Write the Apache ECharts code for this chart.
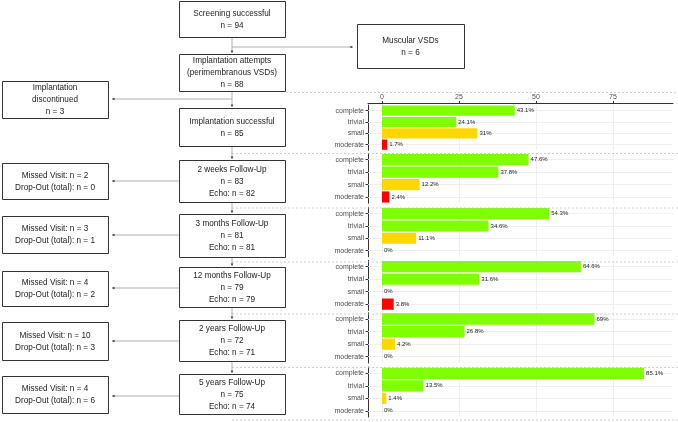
<!DOCTYPE html>
<html>
<head>
<meta charset="utf-8">
<script src="https://cdn.jsdelivr.net/npm/echarts@6/dist/echarts.min.js"></script>
<style>
html, body { margin: 0; padding: 0; background: #fff; }
#main { width: 678px; height: 422px; }
</style>
</head>
<body>
<div id="main"></div>
<script>
// residual shunt grade per visit, % of echos
var grades = ['complete', 'trivial', 'small', 'moderate'];
var visits = ['Implantation', '2 weeks', '3 months', '12 months', '2 years', '5 years'];
var complete = [43.1, 47.6, 54.3, 64.6, 69, 85.1];
var trivial  = [24.1, 37.8, 34.6, 31.6, 26.8, 13.5];
var small    = [31, 12.2, 11.1, 0, 4.2, 1.4];
var moderate = [1.7, 2.4, 0, 3.8, 0, 0];
var xTicks = [0, 25, 50, 75];

// flow chart texts
var mainTexts = [
	['Screening successful', 'n = 94'],
	['Implantation attempts', '(perimembranous VSDs)', 'n = 88'],
	['Implantation successful', 'n = 85'],
	['2 weeks Follow-Up', 'n = 83', 'Echo: n = 82'],
	['3 months Follow-Up', 'n = 81', 'Echo: n = 81'],
	['12 months Follow-Up', 'n = 79', 'Echo: n = 79'],
	['2 years Follow-Up', 'n = 72', 'Echo: n = 71'],
	['5 years Follow-Up', 'n = 75', 'Echo: n = 74']
];
var sideTexts = [
	['Implantation', 'discontinued', 'n = 3'],
	['Missed Visit: n = 2', 'Drop-Out (total): n = 0'],
	['Missed Visit: n = 3', 'Drop-Out (total): n = 1'],
	['Missed Visit: n = 4', 'Drop-Out (total): n = 2'],
	['Missed Visit: n = 10', 'Drop-Out (total): n = 3'],
	['Missed Visit: n = 4', 'Drop-Out (total): n = 6']
];
var muscularText = ['Muscular VSDs', 'n = 6'];

// layout
var FONT = "'Liberation Sans', Arial, sans-serif";
var gradeColors = {complete: '#7FFF00', trivial: '#7FFF00', small: '#FFD700', moderate: '#FF0000'};
var mainY = [[1, 37], [54, 91], [108, 146], [160, 202], [214, 257], [267, 307], [320, 361], [374, 414]];
var sideY = [[81, 118], [163, 199], [216, 253], [271, 306], [322, 360], [376, 413]];
var sideArrowY = [99, 181, 235, 288, 341, 396];
var panelTop = [105, 153.5, 207.5, 260.4, 312.7, 367];
var panelHeight = [45.3, 49.7, 49.3, 50, 50.3, 50];
var dashY = [92, 153, 207.5, 261.5, 313.5, 367, 419.5];
var CX = 232;

var g = [];
function box(x1, y1, x2, y2, lines) {
	g.push({type: 'rect', z: 10, shape: {x: x1 + 0.5, y: y1 + 0.5, width: x2 - x1, height: y2 - y1},
		style: {fill: '#fff', stroke: '#333', lineWidth: 1}});
	var lh = 12;
	var start = (y1 + y2) / 2 + 0.5 - (lines.length - 1) * lh / 2;
	lines.forEach(function(t, k) {
		g.push({type: 'text', z: 11, style: {text: t, x: (x1 + x2) / 2, y: start + k * lh,
			textAlign: 'center', textVerticalAlign: 'middle', fontSize: 8.2, fontFamily: FONT, fill: '#222'}});
	});
}
function line(x1, y1, x2, y2) {
	g.push({type: 'line', z: 5, shape: {x1: x1, y1: y1, x2: x2, y2: y2}, style: {stroke: '#999', lineWidth: 0.8}});
}
function dash(x1, y) {
	g.push({type: 'line', z: 5, shape: {x1: x1, y1: y + 0.5, x2: 678, y2: y + 0.5},
		style: {stroke: '#bbb', lineWidth: 0.7, lineDash: [2, 2]}});
}
function head(pts) {
	g.push({type: 'polygon', z: 6, shape: {points: pts}, style: {fill: '#333'}});
}

// main column
mainTexts.forEach(function(t, i) {
	box(179, mainY[i][0], 285, mainY[i][1], t);
	if (i > 0) {
		var y1 = mainY[i - 1][1], y2 = mainY[i][0] - 1;
		line(CX, y1, CX, y2);
		head([[CX - 1.3, y2 - 2.5], [CX + 1.3, y2 - 2.5], [CX, y2]]);
	}
});
// side boxes
sideTexts.forEach(function(t, i) {
	box(2, sideY[i][0], 108, sideY[i][1], t);
	var y = sideArrowY[i];
	line(i == 0 ? CX : 179, y, 112, y);
	head([[114.5, y - 1.3], [114.5, y + 1.3], [112, y]]);
});
box(357, 24, 464, 68, muscularText);
line(CX, 47, 353, 47);
head([[350.5, 45.7], [350.5, 48.3], [353, 47]]);
// panel separators
dashY.forEach(function(y, i) { dash(i == 0 ? 286 : CX, y); });

var grids = [], xAxes = [], yAxes = [], series = [];
visits.forEach(function(v, i) {
	grids.push({left: 368, right: 5, top: panelTop[i], height: panelHeight[i]});
	xAxes.push({
		gridIndex: i, type: 'value', position: 'top', min: -4.55, max: 94.5, offset: i == 0 ? 2 : 0,
		axisLine: {show: i == 0, onZero: false, lineStyle: {color: '#333', width: 1}},
		axisTick: {show: i == 0, length: 2, customValues: xTicks, lineStyle: {color: '#333'}},
		axisLabel: {show: i == 0, customValues: xTicks, fontSize: 7, color: '#4d4d4d', margin: 2, fontFamily: FONT},
		splitLine: {show: true, lineStyle: {color: '#ebebeb', width: 0.8}}
	});
	yAxes.push({
		gridIndex: i, type: 'category', inverse: true, data: grades,
		axisLine: {show: true, onZero: false, lineStyle: {color: '#333', width: 1}},
		axisTick: {show: true, alignWithLabel: true, length: 2.5, lineStyle: {color: '#333'}},
		axisLabel: {fontSize: 7, color: '#4d4d4d', margin: 4, fontFamily: FONT},
		splitLine: {show: false}
	});
	var vals = [complete[i], trivial[i], small[i], moderate[i]];
	series.push({
		name: v, type: 'bar', xAxisIndex: i, yAxisIndex: i, barCategoryGap: '10%',
		data: vals.map(function(val, k) { return {value: val, itemStyle: {color: gradeColors[grades[k]]}}; }),
		label: {show: true, position: 'right', distance: 2, fontSize: 6, color: '#222', fontFamily: FONT,
			formatter: function(p) { return p.value + '%'; }},
		markLine: {silent: true, symbol: 'none', z: 1, label: {show: false},
			lineStyle: {color: '#ebebeb', width: 0.8, type: 'solid'},
			data: grades.map(function(gr) { return {yAxis: gr}; })}
	});
});

var myChart = echarts.init(document.getElementById('main'));
myChart.setOption({
	animation: false,
	textStyle: {fontFamily: FONT},
	grid: grids,
	xAxis: xAxes,
	yAxis: yAxes,
	series: series,
	graphic: g
});
</script>
</body>
</html>
